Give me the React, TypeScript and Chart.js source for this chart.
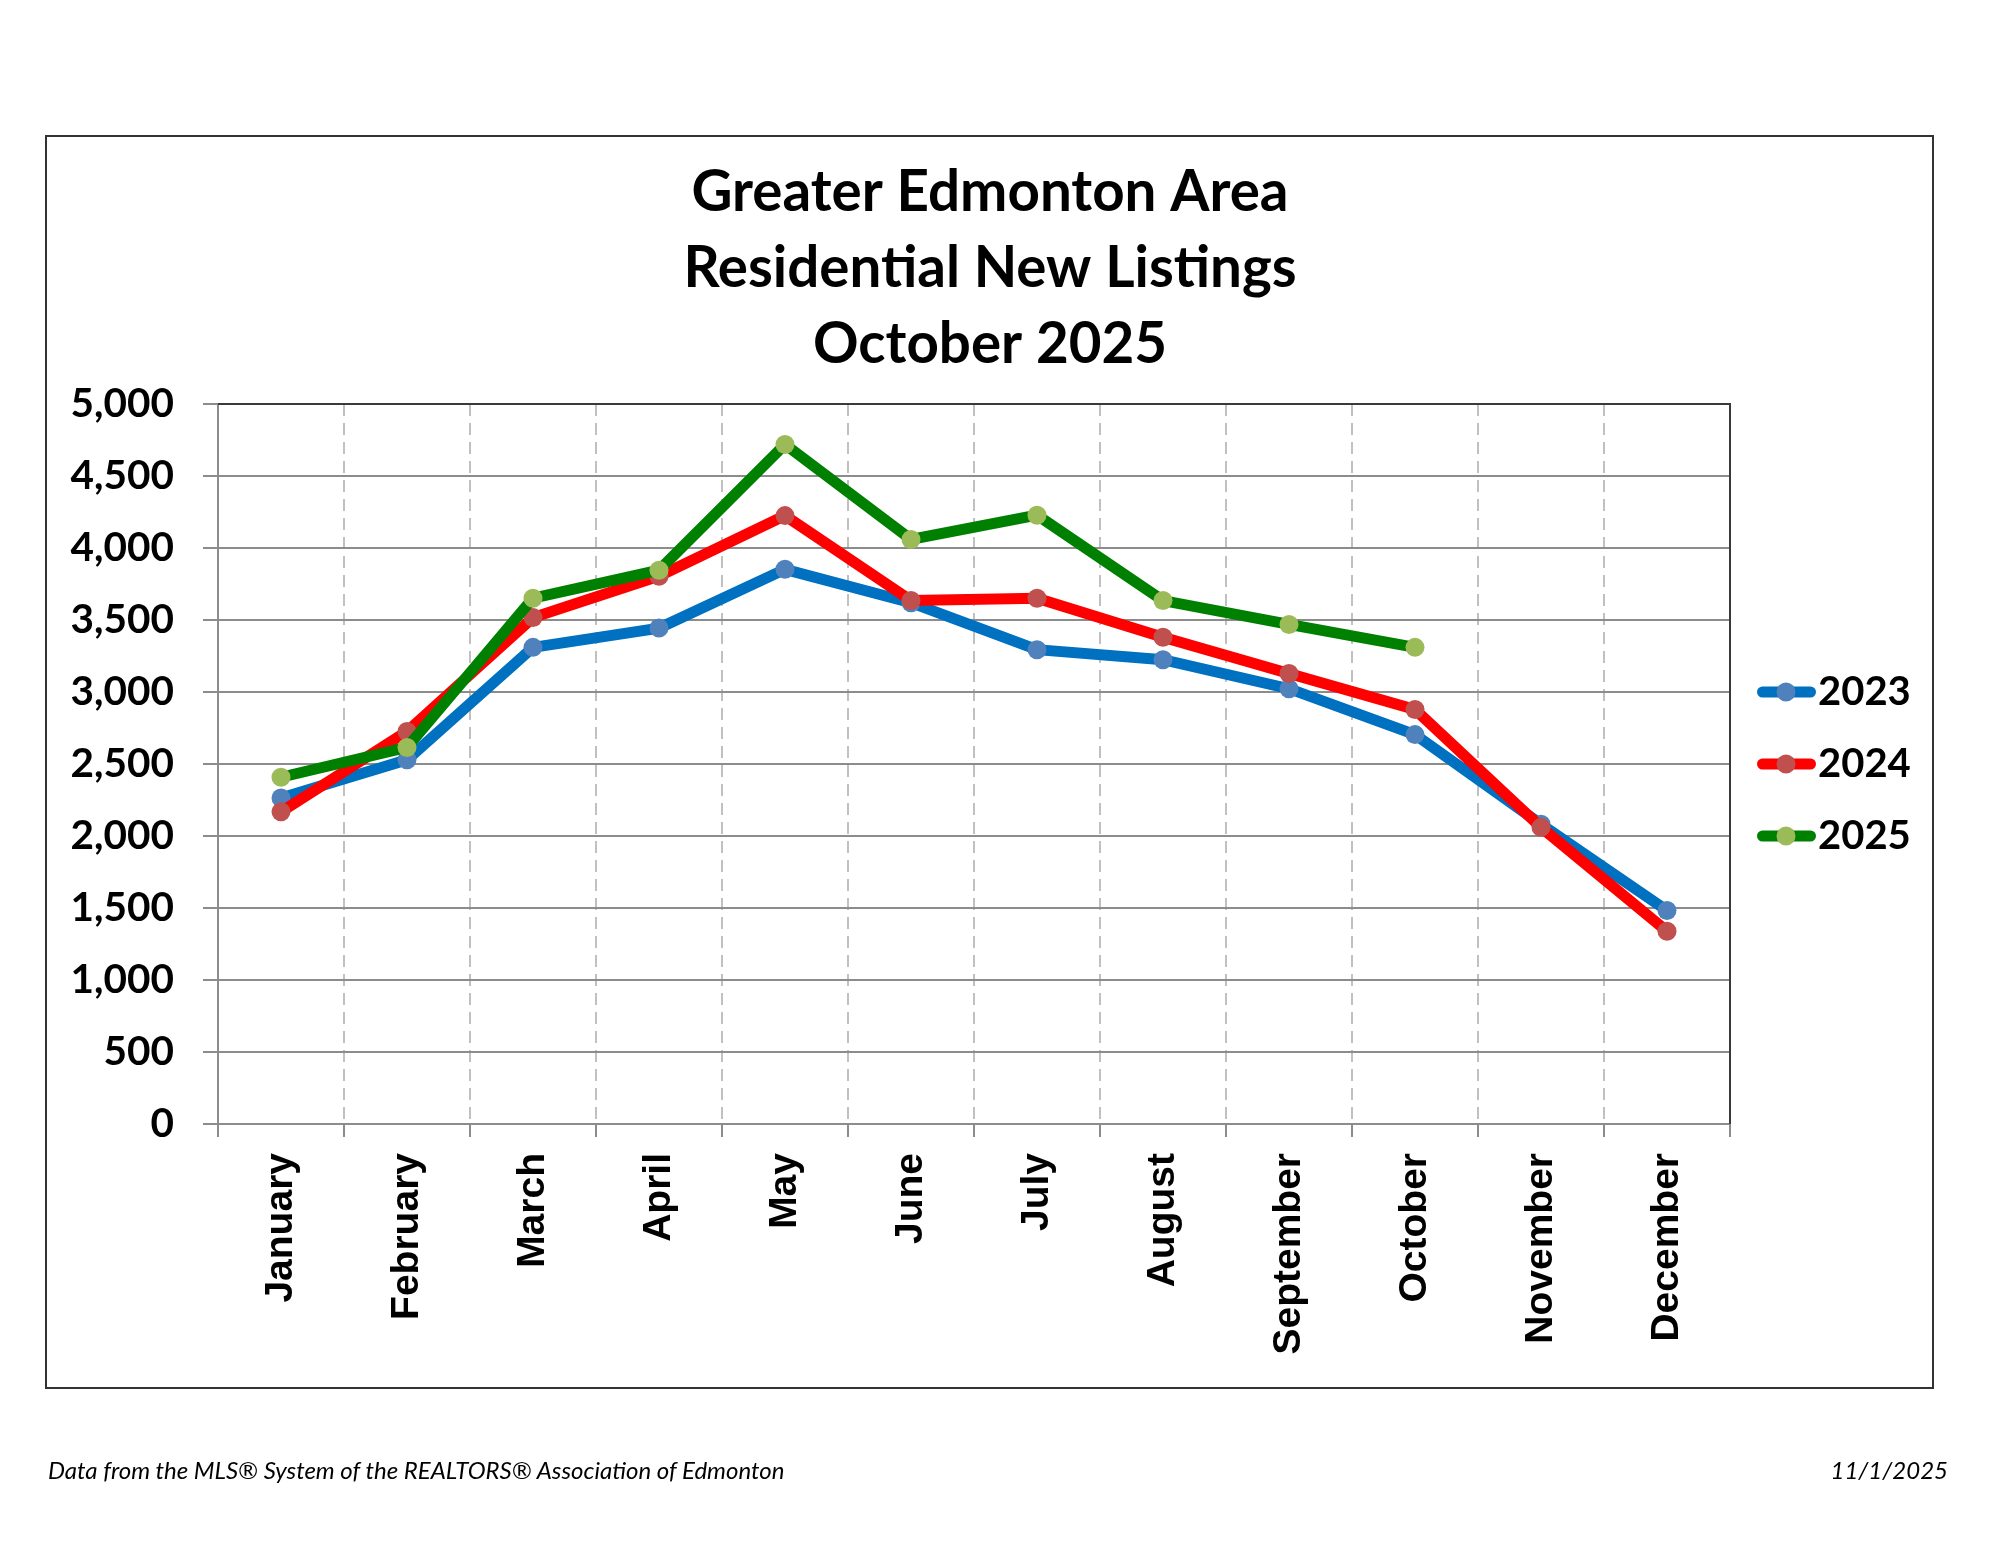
import React, { useEffect, useRef } from 'react';
import { Chart, registerables } from 'chart.js';

Chart.register(...registerables);

const months = ['January', 'February', 'March', 'April', 'May', 'June', 'July', 'August', 'September', 'October', 'November', 'December'];
const seriesNames = ['2023', '2024', '2025'];
const values2023 = [2264, 2529, 3310, 3444, 3852, 3620, 3294, 3224, 3023, 2704, 2082, 1483];
const values2024 = [2168, 2726, 3517, 3804, 4225, 3635, 3651, 3380, 3128, 2879, 2060, 1339];
const values2025 = [2408, 2615, 3651, 3846, 4719, 4059, 4228, 3635, 3469, 3310, null, null];
const yTickLabels = ['0', '500', '1,000', '1,500', '2,000', '2,500', '3,000', '3,500', '4,000', '4,500', '5,000'];
const titleLines = ['Greater Edmonton Area', 'Residential New Listings', 'October 2025'];
const footerLeft = 'Data from the MLS® System of the REALTORS® Association of Edmonton';
const footerRight = '11/1/2025';

const lineColors = ['#0070C0', '#FF0000', '#008000'];
const pointColors = ['#4F81BD', '#C0504D', '#9BBB59'];

function makeLegendImage(lineColor: string, pointColor: string): HTMLCanvasElement {
  const c = document.createElement('canvas');
  c.width = 76;
  c.height = 22;
  const ctx = c.getContext('2d')!;
  ctx.lineCap = 'round';
  ctx.lineWidth = 11;
  ctx.strokeStyle = lineColor;
  ctx.beginPath();
  ctx.moveTo(20.5, 11);
  ctx.lineTo(68.5, 11);
  ctx.stroke();
  ctx.fillStyle = pointColor;
  ctx.beginPath();
  ctx.arc(44, 11, 9.5, 0, Math.PI * 2);
  ctx.fill();
  return c;
}

const framePlugin = {
  id: 'plotFrame',
  beforeDatasetsDraw(chart: any) {
    const { ctx, chartArea: a } = chart;
    ctx.save();
    ctx.strokeStyle = '#3a3a3a';
    ctx.lineWidth = 2;
    ctx.beginPath();
    ctx.moveTo(a.left, a.top);
    ctx.lineTo(a.right, a.top);
    ctx.lineTo(a.right, a.bottom);
    ctx.stroke();
    ctx.restore();
  },
};

export default function App() {
  const canvasRef = useRef<HTMLCanvasElement | null>(null);

  useEffect(() => {
    const canvas = canvasRef.current;
    if (!canvas) return;
    const seriesValues = [values2023, values2024, values2025];
    const legendImages = seriesNames.map((_, i) => makeLegendImage(lineColors[i], pointColors[i]));
    const chart = new Chart(canvas, {
      type: 'line',
      data: {
        labels: months,
        datasets: seriesNames.map((name, i) => ({
          label: name,
          data: seriesValues[i],
          borderColor: lineColors[i],
          backgroundColor: pointColors[i],
          borderWidth: 11,
          pointRadius: 9.5,
          pointHoverRadius: 9.5,
          pointBorderWidth: 0,
          pointBackgroundColor: pointColors[i],
          tension: 0,
          spanGaps: false,
          order: 3 - i,
        })),
      },
      options: {
        animation: false,
        responsive: false,
        devicePixelRatio: 1,
        events: [],
        layout: { padding: { left: 60, right: 80, top: 155, bottom: 171 } },
        plugins: {
          tooltip: { enabled: false },
          title: {
            display: true,
            text: titleLines,
            color: '#000',
            font: { family: 'Lato', weight: 'bold', size: 56.5, lineHeight: 76 / 56.5 },
            padding: { top: 0, bottom: 21 },
          },
          legend: {
            display: true,
            position: 'right',
            fullSize: false,
            maxWidth: 190,
            labels: {
              usePointStyle: true,
              pointStyleWidth: 36,
              padding: 32,
              color: '#000',
              font: { family: 'Lato', weight: 'bold', size: 40 },
              generateLabels: (ch: any) =>
                ch.data.datasets.map((ds: any, i: number) => ({
                  text: ds.label,
                  fillStyle: pointColors[i],
                  strokeStyle: lineColors[i],
                  lineWidth: 0,
                  pointStyle: legendImages[i],
                  hidden: false,
                  datasetIndex: i,
                  fontColor: '#000',
                })),
            },
          },
        },
        scales: {
          x: {
            type: 'category',
            offset: true,
            grid: {
              offset: true,
              color: '#C0C0C0',
              lineWidth: 2,
              tickLength: 13,
              tickColor: '#8c8c8c',
              tickWidth: 2,
            },
            border: { display: true, color: '#8c8c8c', width: 2, dash: [12, 7] },
            ticks: {
              autoSkip: false,
              maxRotation: 90,
              minRotation: 90,
              padding: 16,
              color: '#000',
              font: { family: 'Liberation Sans', weight: 'bold', size: 39 },
            },
            afterFit: (scale: any) => {
              scale.height = 250;
            },
          },
          y: {
            type: 'linear',
            min: 0,
            max: 5000,
            grid: {
              color: '#8c8c8c',
              lineWidth: 2,
              tickLength: 15,
              tickColor: '#8c8c8c',
            },
            border: { display: true, color: '#8c8c8c', width: 2 },
            ticks: {
              stepSize: 500,
              padding: 29,
              color: '#000',
              font: { family: 'Lato', weight: 'bold', size: 40.5 },
              callback: (_v: any, i: number) => yTickLabels[i],
            },
            afterFit: (scale: any) => {
              scale.width = 158;
            },
          },
        },
      },
      plugins: [framePlugin],
    } as any);
    return () => chart.destroy();
  }, []);

  const footerStyle: React.CSSProperties = {
    position: 'absolute',
    top: 1458,
    fontFamily: 'Lato',
    fontStyle: 'italic',
    fontSize: 24,
    lineHeight: '24px',
    color: '#000',
    whiteSpace: 'nowrap',
  };

  return (
    <div style={{ position: 'absolute', left: 0, top: 0, width: 2000, height: 1545, background: '#fff', overflow: 'hidden' }}>
      <div
        style={{
          position: 'absolute',
          left: 45,
          top: 135,
          width: 1889,
          height: 1254,
          border: '2px solid #333',
          boxSizing: 'border-box',
        }}
      />
      <canvas
        ref={canvasRef}
        width={2000}
        height={1545}
        style={{ position: 'absolute', left: 0, top: 0, width: 2000, height: 1545 }}
      />
      <div style={{ ...footerStyle, left: 48 }}>{footerLeft}</div>
      <div style={{ ...footerStyle, right: 52 }}>{footerRight}</div>
    </div>
  );
}
